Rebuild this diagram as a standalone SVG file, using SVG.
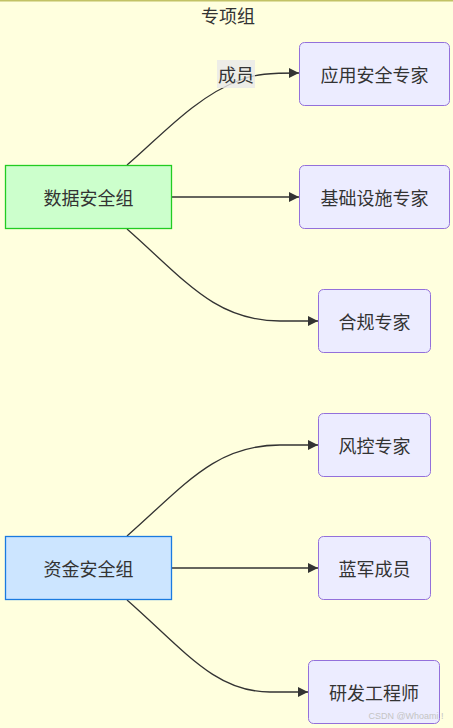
<svg xmlns="http://www.w3.org/2000/svg" width="453" height="728" viewBox="0 0 453 728">
<style>
text{font-family:"Noto Sans CJK SC","Noto Sans",sans-serif;font-size:18px;fill:#333;text-anchor:middle;dominant-baseline:central}
.n{fill:#ececff;stroke:#9370db;stroke-width:1}
.e{fill:none;stroke:#333;stroke-width:1.3}
</style>
<defs>
<marker id="arr" viewBox="0 0 10 10" refX="10" refY="5" markerWidth="10" markerHeight="10" markerUnits="userSpaceOnUse" orient="auto">
<path d="M0,0 L10,5 L0,10 z" fill="#333"/>
</marker>
</defs>
<rect x="0" y="0" width="453" height="728" fill="#ffffde"/>
<line x1="0" y1="0.75" x2="453" y2="0.75" stroke="#c2c265" stroke-width="1.5"/>
<text x="228" y="15">专项组</text>
<g id="edges">
<path class="e" d="M127,165 C160,137 195,97 240,80 C255,74 270,73 299,73" marker-end="url(#arr)"/>
<path class="e" d="M172,197 L299,197" marker-end="url(#arr)"/>
<path class="e" d="M127,229 C185,280 215,321 280,321 L318,321" marker-end="url(#arr)"/>
<path class="e" d="M127,536 C185,485 215,445 280,445 L318,445" marker-end="url(#arr)"/>
<path class="e" d="M172,568 L318,568" marker-end="url(#arr)"/>
<path class="e" d="M127,600 C185,651 215,692 270,692 L308,692" marker-end="url(#arr)"/>
<g id="label-chengyuan">
<rect x="217" y="60" width="38" height="28" fill="#e8e8e8" opacity="0.8"/>
<text x="236" y="74">成员</text>
</g>
</g>
<g id="data-group">
<rect x="5.5" y="165.5" width="166" height="63" fill="#ccffcc" stroke="#22cc22" stroke-width="1.3"/>
<text x="88.5" y="197">数据安全组</text>
</g>
<g id="fund-group">
<rect x="5.5" y="536.5" width="166" height="63" fill="#cce5ff" stroke="#1a7ae0" stroke-width="1.3"/>
<text x="88.5" y="568">资金安全组</text>
</g>
<g id="app-sec">
<rect class="n" x="299.5" y="42.5" width="150" height="63" rx="5"/>
<text x="374.5" y="74">应用安全专家</text>
</g>
<g id="infra">
<rect class="n" x="299.5" y="165.5" width="150" height="63" rx="5"/>
<text x="374.5" y="197">基础设施专家</text>
</g>
<g id="compliance">
<rect class="n" x="318.5" y="289.5" width="112" height="63" rx="5"/>
<text x="374.5" y="321">合规专家</text>
</g>
<g id="risk">
<rect class="n" x="318.5" y="413.5" width="112" height="63" rx="5"/>
<text x="374.5" y="445">风控专家</text>
</g>
<g id="blue-team">
<rect class="n" x="318.5" y="536.5" width="112" height="63" rx="5"/>
<text x="374.5" y="568">蓝军成员</text>
</g>
<g id="dev">
<rect class="n" x="308.5" y="660.5" width="131" height="63" rx="5"/>
<text x="374" y="692">研发工程师</text>
</g>
<text x="406" y="716" style="font-family:'Liberation Sans',sans-serif;font-size:9px;fill:#c4c4c4">CSDN @Whoami !</text>
</svg>
